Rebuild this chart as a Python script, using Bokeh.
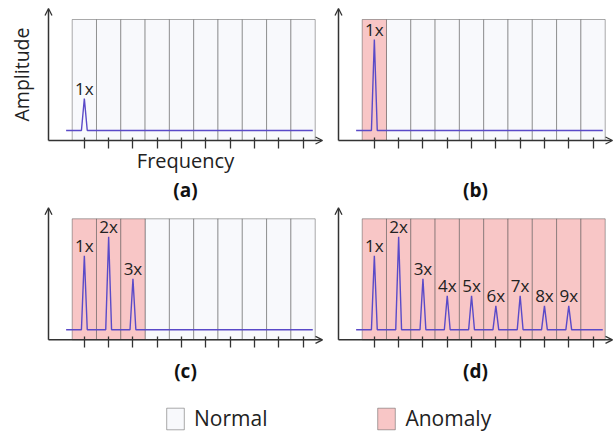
from bokeh.plotting import figure
from bokeh.models import Arrow, OpenHead, FixedTicker, Legend, LegendItem, Range1d, Label
from bokeh.layouts import column, row
from bokeh.embed import file_html
from bokeh.resources import INLINE
from bokeh.core.properties import value

# ---------------- data ----------------
BINS = list(range(1, 11))                     # frequency bins (ticks at bin centres)
PANEL_LABELS = ["(a)", "(b)", "(c)", "(d)"]

A_ORDERS = [1]
A_AMPS = [32]
A_ANOMALY = []

B_ORDERS = [1]
B_AMPS = [91]
B_ANOMALY = [1]

C_ORDERS = [1, 2, 3]
C_AMPS = [74, 93, 51]
C_ANOMALY = [1, 2, 3]

D_ORDERS = [1, 2, 3, 4, 5, 6, 7, 8, 9]
D_AMPS = [74, 93, 51, 34, 34, 24, 34, 24, 24]
D_ANOMALY = [1, 2, 3, 4, 5, 6, 7, 8, 9, 10]

LEGEND_LABELS = ["Normal", "Anomaly"]

# ---------------- style / layout ----------------
FONT = "Open Sans"
NORMAL_FILL = "#f8f9fc"
ANOM_FILL = "#f8c6c6"
BOX_LINE = "#444444"
LINE_COLOR = "#5a4ac8"
AXIS_COLOR = "#333333"
TEXT_COLOR = "#222222"

AX_X, ARROW_X = -0.475, 10.8      # y-axis position and x-arrow tip (bin units)
AX_Y, ARROW_Y = -10, 122          # x-axis position and y-arrow tip (amplitude units)
BOX_TOP = 111
BASE_START, BASE_END = 0.25, 10.4
HALF = 0.12
LABEL_GAP = -1.5
AXIS_PX = 274                      # pixel length of the x axis
SCALE = AXIS_PX / (ARROW_X - AX_X)  # px per bin


def spectrum(orders, amps):
    xs, ys = [BASE_START], [0]
    for k, a in sorted(zip(orders, amps)):
        xs += [k - HALF, k, k + HALF]
        ys += [0, a, 0]
    xs.append(BASE_END)
    ys.append(0)
    return xs, ys


def panel(orders, amps, anomaly, label, width, height, left_px, axis_from_top,
          label_gap, xlabel=None, ylabel=None):
    x0 = AX_X - left_px / SCALE
    x1 = x0 + width / SCALE
    y0 = AX_Y - (height - axis_from_top)
    y1 = AX_Y + axis_from_top
    p = figure(width=width, height=height,
               x_range=Range1d(x0, x1), y_range=Range1d(y0, y1),
               output_backend="svg", toolbar_location=None,
               min_border_left=0, min_border_right=0,
               min_border_top=0, min_border_bottom=0)
    p.outline_line_color = None
    p.grid.visible = False
    p.background_fill_color = "white"

    normal = [b for b in BINS if b not in anomaly]
    for bins, fill in ((normal, NORMAL_FILL), (anomaly, ANOM_FILL)):
        if bins:
            p.quad(left=[b - 0.5 for b in bins], right=[b + 0.5 for b in bins],
                   bottom=[AX_Y] * len(bins), top=[BOX_TOP] * len(bins),
                   fill_color=fill, line_color=BOX_LINE, line_alpha=0.45, line_width=1)

    xs, ys = spectrum(orders, amps)
    p.line(xs, ys, line_color=LINE_COLOR, line_width=1.4)

    p.text(x=orders, y=[a + LABEL_GAP for a in amps], text=[f"{k}x" for k in orders],
           text_align="center", text_baseline="bottom",
           text_font=value(FONT), text_font_size="17px", text_color=TEXT_COLOR)

    # x axis (ticks at bin centres), drawn at the axis level
    xa = p.xaxis[0]
    xa.fixed_location = AX_Y
    xa.bounds = (AX_X, ARROW_X)
    xa.ticker = FixedTicker(ticks=BINS)
    xa.major_tick_in = 3
    xa.major_tick_out = 8
    xa.major_tick_line_color = AXIS_COLOR
    xa.major_tick_line_width = 1.3
    xa.minor_tick_line_color = None
    xa.axis_line_alpha = 0
    xa.major_label_text_color = None
    xa.major_label_text_font_size = "1px"
    xa.major_label_standoff = 0
    if xlabel:
        xa.axis_label = xlabel
        xa.axis_label_standoff = -2
        xa.axis_label_text_font = FONT
        xa.axis_label_text_font_size = "20px"
        xa.axis_label_text_font_style = "normal"
        xa.axis_label_text_color = TEXT_COLOR

    ya = p.yaxis[0]
    if ylabel:
        ya.fixed_location = AX_X
        ya.bounds = (AX_Y, ARROW_Y)
        ya.ticker = FixedTicker(ticks=[])
        ya.major_tick_line_color = None
        ya.minor_tick_line_color = None
        ya.axis_line_alpha = 0
        ya.major_label_text_color = None
        ya.major_label_text_font_size = "1px"
        ya.major_label_standoff = 0
        ya.axis_label = ylabel
        ya.axis_label_standoff = 14
        ya.axis_label_text_font = FONT
        ya.axis_label_text_font_size = "19.5px"
        ya.axis_label_text_font_style = "normal"
        ya.axis_label_text_color = TEXT_COLOR
    else:
        ya.visible = False

    head = dict(size=7, line_color=AXIS_COLOR, line_width=1.3)
    p.add_layout(Arrow(x_start=AX_X, y_start=AX_Y, x_end=ARROW_X, y_end=AX_Y,
                       end=OpenHead(**head), line_color=AXIS_COLOR, line_width=1.5))
    p.add_layout(Arrow(x_start=AX_X, y_start=AX_Y, x_end=AX_X, y_end=ARROW_Y,
                       end=OpenHead(**head), line_color=AXIS_COLOR, line_width=1.5))

    p.add_layout(Label(x=(AX_X + ARROW_X) / 2, y=AX_Y - label_gap, text=label,
                       text_align="center", text_baseline="middle",
                       text_font=FONT, text_font_size="19px", text_font_style="bold",
                       text_color="#111111"))
    return p


pa = panel(A_ORDERS, A_AMPS, A_ANOMALY, PANEL_LABELS[0], 330, 204, 48, 140, 49,
           xlabel="Frequency", ylabel="Amplitude")
pb = panel(B_ORDERS, B_AMPS, B_ANOMALY, PANEL_LABELS[1], 283, 204, 8, 140, 49)
pc = panel(C_ORDERS, C_AMPS, C_ANOMALY, PANEL_LABELS[2], 330, 194, 48, 135.3, 31)
pd = panel(D_ORDERS, D_AMPS, D_ANOMALY, PANEL_LABELS[3], 283, 194, 8, 135.3, 31)

# legend strip
lf = figure(width=613, height=36, x_range=Range1d(0, 1), y_range=Range1d(0, 1),
            output_backend="svg", toolbar_location=None,
            min_border_left=0, min_border_right=0, min_border_top=0, min_border_bottom=0)
lf.axis.visible = False
lf.grid.visible = False
lf.outline_line_color = None
r1 = lf.quad(left=[2], right=[3], bottom=[2], top=[3], fill_color=NORMAL_FILL,
             line_color=BOX_LINE, line_alpha=0.45)
r2 = lf.quad(left=[2], right=[3], bottom=[2], top=[3], fill_color=ANOM_FILL,
             line_color=BOX_LINE, line_alpha=0.45)
legend = Legend(items=[LegendItem(label=LEGEND_LABELS[0], renderers=[r1]),
                       LegendItem(label=LEGEND_LABELS[1], renderers=[r2])],
                orientation="horizontal", location=(164, 2),
                glyph_width=22, glyph_height=27, label_standoff=8, spacing=108,
                padding=0, margin=0, border_line_alpha=0, background_fill_alpha=0,
                label_text_font=FONT, label_text_font_size="21px",
                label_text_color=TEXT_COLOR)
lf.add_layout(legend)

layout = column(row(pa, pb), row(pc, pd), lf)
open("out.html", "w").write(file_html(layout, INLINE))
